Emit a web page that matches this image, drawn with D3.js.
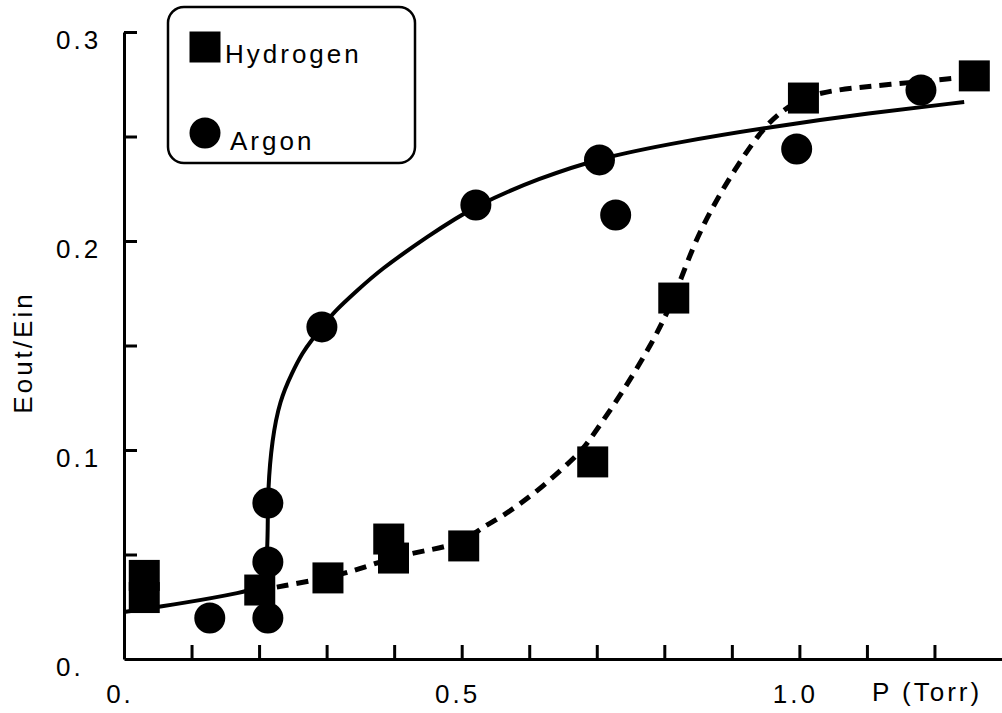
<!DOCTYPE html>
<html>
<head>
<meta charset="utf-8">
<script src="https://cdn.jsdelivr.net/npm/d3@7"></script>
<style>
  html, body { margin: 0; padding: 0; background: #fff; }
  svg { display: block; }
  text { font-family: "Liberation Sans", Arial, Helvetica, sans-serif; font-size: 26px; letter-spacing: 3px; fill: #000; }
</style>
</head>
<body>
<svg id="chart" width="1002" height="713"></svg>
<script>
// measured points, P (Torr) vs Eout/Ein
var hydrogenP = [0.030, 0.030, 0.201, 0.302, 0.392, 0.399, 0.503, 0.694, 0.814, 1.006, 1.259];
var hydrogenE = [0.040, 0.0294, 0.033, 0.0388, 0.0574, 0.0483, 0.0541, 0.0943, 0.1727, 0.2684, 0.279];

var argonP = [0.127, 0.213, 0.213, 0.213, 0.293, 0.521, 0.704, 0.728, 0.996, 1.180];
var argonE = [0.0196, 0.0746, 0.0464, 0.0196, 0.1589, 0.2172, 0.2388, 0.2124, 0.244, 0.2722];

// hand-drawn fit curves
var argonFitP = [0, 0.0902, 0.179, 0.1982, 0.2086, 0.2115, 0.213, 0.213, 0.219, 0.2308, 0.2485, 0.2648, 0.278, 0.2944, 0.3121, 0.3447, 0.3787, 0.4482, 0.5207, 0.6154, 0.7041, 0.8225, 0.9556, 1.1036, 1.244];
var argonFitE = [0.0225, 0.0268, 0.0321, 0.034, 0.0388, 0.0474, 0.0617, 0.0809, 0.1048, 0.1239, 0.1368, 0.1469, 0.1526, 0.1593, 0.1665, 0.1761, 0.1861, 0.2019, 0.2172, 0.2301, 0.2397, 0.2474, 0.2545, 0.2612, 0.2665];

var hydrogenFitP = [0.2263, 0.3018, 0.3447, 0.3994, 0.4527, 0.5015, 0.531, 0.5592, 0.611, 0.6553, 0.679, 0.6997, 0.7337, 0.7825, 0.8136, 0.8417, 0.8713, 0.9038, 0.9408, 0.9704, 1.0059, 1.0444, 1.1405, 1.2337];
var hydrogenFitE = [0.0344, 0.0388, 0.0426, 0.0488, 0.0522, 0.0555, 0.0632, 0.0679, 0.0799, 0.0928, 0.1, 0.1096, 0.1254, 0.1512, 0.1718, 0.1971, 0.2163, 0.234, 0.2517, 0.2617, 0.2684, 0.2722, 0.2751, 0.278];

var xTickValues = [0.1, 0.2, 0.3, 0.4, 0.5, 0.6, 0.7, 0.8, 0.9, 1.0, 1.1, 1.2];
var xLabelValues = [0, 0.5, 1.0];
var xLabels = ["0.", "0.5", "1.0"];
var yTickValues = [0.05, 0.1, 0.15, 0.2, 0.25, 0.3];
var yLabelValues = [0, 0.1, 0.2, 0.3];
var yLabels = ["0.", "0.1", "0.2", "0.3"];

var svg = d3.select("#chart"),
    margin = {top: 32, right: 0, bottom: 54, left: 124},
    width = +svg.attr("width") - margin.left - margin.right,
    height = +svg.attr("height") - margin.top - margin.bottom;

var g = svg.append("g").attr("transform", "translate(" + margin.left + "," + margin.top + ")");

var x = d3.scaleLinear().domain([0, 1.3]).range([0, width]);
var y = d3.scaleLinear().domain([0, 0.3]).range([height, 0]);

function zip(a, b) { return a.map(function(v, i) { return {x: v, y: b[i]}; }); }

// axes: ticks point inward, labels drawn separately
var xAxis = g.append("g")
    .attr("transform", "translate(0," + height + ")")
    .call(d3.axisBottom(x).tickValues(xTickValues).tickSize(-14).tickSizeOuter(0).tickFormat(""));
var yAxis = g.append("g")
    .call(d3.axisLeft(y).tickValues(yTickValues).tickSize(-13).tickSizeOuter(0).tickFormat(""));
[xAxis, yAxis].forEach(function(a) {
  a.select(".domain").attr("stroke", "#000").attr("stroke-width", 3);
  a.selectAll(".tick line").attr("stroke", "#000").attr("stroke-width", 3);
});

g.selectAll(".xlab")
    .data(xLabelValues)
  .enter().append("text")
    .attr("x", function(d) { return x(d) - 4; })
    .attr("y", height + 44)
    .attr("text-anchor", "middle")
    .text(function(d, i) { return xLabels[i]; });

g.selectAll(".ylab")
    .data(yLabelValues)
  .enter().append("text")
    .attr("x", -68)
    .attr("y", function(d) { return y(d) + 17; })
    .text(function(d, i) { return yLabels[i]; });

g.append("text")
    .attr("x", width - 130)
    .attr("y", height + 42)
    .text("P (Torr)");

g.append("text")
    .attr("transform", "translate(-92," + (height / 2 + 7) + ") rotate(-90)")
    .attr("text-anchor", "middle")
    .text("Eout/Ein");

// fit curves
var line = d3.line()
    .x(function(d) { return x(d.x); })
    .y(function(d) { return y(d.y); })
    .curve(d3.curveBasis);

g.append("path")
    .datum(zip(argonFitP, argonFitE))
    .attr("fill", "none")
    .attr("stroke", "#000")
    .attr("stroke-width", 4)
    .attr("d", line);

g.append("path")
    .datum(zip(hydrogenFitP, hydrogenFitE))
    .attr("fill", "none")
    .attr("stroke", "#000")
    .attr("stroke-width", 5)
    .attr("stroke-dasharray", "12,8")
    .attr("d", line);

// markers
var square = d3.symbol().type(d3.symbolSquare).size(31 * 31);
var circle = d3.symbol().type(d3.symbolCircle).size(Math.PI * 15.5 * 15.5);

g.selectAll(".h2")
    .data(zip(hydrogenP, hydrogenE))
  .enter().append("path")
    .attr("transform", function(d) { return "translate(" + x(d.x) + "," + y(d.y) + ")"; })
    .attr("d", square);

g.selectAll(".ar")
    .data(zip(argonP, argonE))
  .enter().append("path")
    .attr("transform", function(d) { return "translate(" + x(d.x) + "," + y(d.y) + ")"; })
    .attr("d", circle);

// legend
var legend = svg.append("g").attr("transform", "translate(167,6)");
legend.append("rect")
    .attr("x", 1).attr("y", 1)
    .attr("width", 247).attr("height", 156)
    .attr("rx", 16).attr("ry", 16)
    .attr("fill", "#fff")
    .attr("stroke", "#000")
    .attr("stroke-width", 2.5);
legend.append("path").attr("transform", "translate(38,41)").attr("d", square);
legend.append("text").attr("x", 58).attr("y", 57).text("Hydrogen");
legend.append("path").attr("transform", "translate(38,127)").attr("d", circle);
legend.append("text").attr("x", 63).attr("y", 144).text("Argon");
</script>
</body>
</html>
